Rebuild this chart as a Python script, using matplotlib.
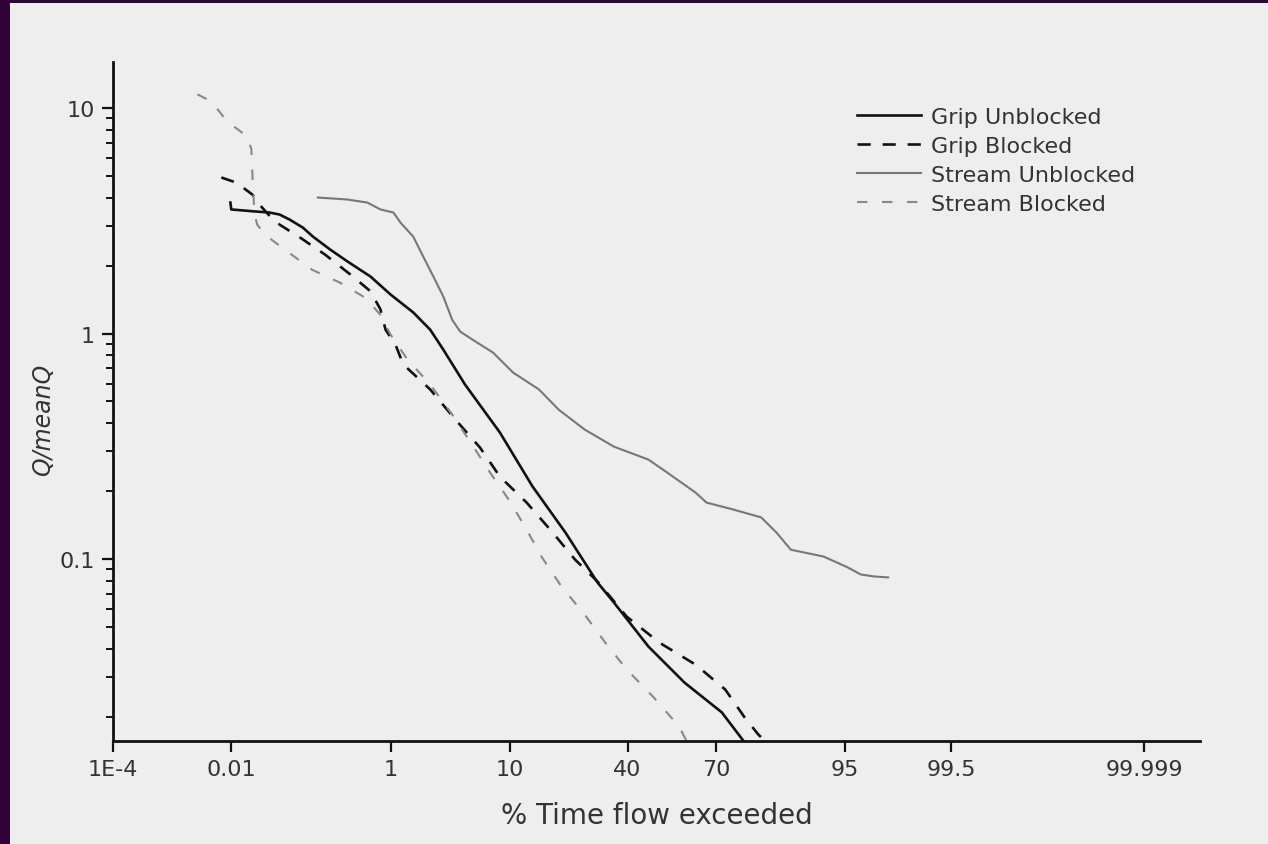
import numpy as np
import matplotlib
matplotlib.use("Agg")
import matplotlib.pyplot as plt
from matplotlib.patches import Rectangle
from matplotlib.ticker import FixedLocator, NullLocator, NullFormatter, FixedFormatter, LogLocator
from statistics import NormalDist

# ---------------- data (percent of time exceeded, Q/meanQ) ----------------
grip_unblocked_pct = [0.0097, 0.01, 0.0219, 0.0357, 0.049, 0.0668, 0.099, 0.133, 0.215, 0.342,
                      0.618, 1.0, 1.67, 2.39, 3.11, 4.70, 8.54, 13.9, 21.3, 30.3, 35.5, 47.2,
                      59.7, 71.6, 77.8]
grip_unblocked_q = [3.81, 3.55, 3.48, 3.44, 3.37, 3.20, 2.95, 2.69, 2.36, 2.09,
                    1.79, 1.49, 1.24, 1.04, 0.849, 0.594, 0.364, 0.210, 0.131, 0.0787, 0.0641, 0.0409,
                    0.0283, 0.0209, 0.0155]

grip_blocked_pct = [0.00706, 0.0119, 0.0205, 0.0258, 0.0419, 0.0904, 0.187, 0.369, 0.618, 0.788,
                    0.89, 1.12, 1.34, 2.39, 3.92, 6.14, 8.54, 12.8, 18.0, 23.8, 30.3, 39.7,
                    51.0, 63.4, 72.6, 78.0, 81.3, 83.0]
grip_blocked_q = [4.92, 4.67, 4.13, 3.73, 3.14, 2.67, 2.24, 1.83, 1.54, 1.28,
                  1.04, 0.894, 0.729, 0.565, 0.416, 0.312, 0.232, 0.178, 0.1324, 0.0995, 0.0795, 0.0556,
                  0.0426, 0.0340, 0.0264, 0.0198, 0.0167, 0.0155]

stream_unblocked_pct = [0.153, 0.342, 0.571, 0.788, 1.07, 1.26, 1.67, 2.07, 2.55, 3.11, 3.70, 4.30,
                        5.83, 7.63, 10.5, 15.2, 19.6, 26.5, 35.5, 47.2, 53.7, 63.4, 66.9, 74.8,
                        82.0, 85.3, 88.0, 92.8, 95.3, 96.3, 97.15, 97.86]
stream_unblocked_q = [4.01, 3.93, 3.81, 3.55, 3.44, 3.10, 2.69, 2.19, 1.79, 1.46, 1.15, 1.02,
                      0.912, 0.824, 0.671, 0.565, 0.460, 0.375, 0.315, 0.276, 0.242, 0.197, 0.178, 0.166,
                      0.153, 0.131, 0.110, 0.1026, 0.0917, 0.0854, 0.0837, 0.0829]

stream_blocked_pct = [0.00297, 0.00495, 0.0087, 0.0173, 0.0198, 0.0205, 0.0219, 0.024, 0.0304, 0.0572,
                      0.129, 0.283, 0.544, 0.788, 1.0, 1.47, 2.39, 3.70, 5.33, 7.27, 10.0, 12.8,
                      15.85, 20.3, 26.5, 32.7, 39.7, 49.1, 57.8, 60.5]
stream_blocked_q = [11.5, 10.7, 8.71, 7.47, 6.55, 4.97, 3.37, 3.04, 2.75, 2.36,
                    1.92, 1.68, 1.44, 1.21, 0.99, 0.767, 0.594, 0.437, 0.322, 0.242, 0.180, 0.135,
                    0.1015, 0.0755, 0.0567, 0.0426, 0.0324, 0.0243, 0.0181, 0.0155]

x_ticks = [1e-4, 0.01, 1, 10, 40, 70, 95, 99.5, 99.999]
x_tick_labels = ["1E-4", "0.01", "1", "10", "40", "70", "95", "99.5", "99.999"]
y_ticks = [0.1, 1, 10]
y_tick_labels = ["0.1", "1", "10"]

# ---------------- probability (probit) scale ----------------
_nd = NormalDist()
_ppf = np.vectorize(lambda v: _nd.inv_cdf(v / 100.0), otypes=[float])
_cdf = np.vectorize(lambda v: 100.0 * _nd.cdf(v), otypes=[float])


def fwd(p):
    p = np.clip(np.asarray(p, dtype=float), 1e-10, 100 - 1e-10)
    return _ppf(p)


def inv(z):
    return _cdf(np.asarray(z, dtype=float))


BG = "#eeeeee"
TXT = "#333333"

plt.rcParams['font.family'] = ['DejaVu Sans']

fig = plt.figure(figsize=(12.68, 8.45), dpi=100, facecolor=BG)
ax = fig.add_axes([113 / 1268, 1 - 742 / 845, 1087 / 1268, 679 / 845])
ax.set_facecolor(BG)

ax.set_xscale('function', functions=(fwd, inv))
ax.set_yscale('log')

ax.plot(grip_unblocked_pct, grip_unblocked_q, color="#111111", lw=1.9, label="Grip Unblocked")
ax.plot(grip_blocked_pct, grip_blocked_q, color="#111111", lw=1.9, dashes=(5, 4.5), label="Grip Blocked")
ax.plot(stream_unblocked_pct, stream_unblocked_q, color="#777777", lw=1.5, label="Stream Unblocked")
ax.plot(stream_blocked_pct, stream_blocked_q, color="#888888", lw=1.5, dashes=(5, 7), label="Stream Blocked")

ax.set_xlim(1e-4, 99.9999)
ax.set_ylim(0.0156, 16)

ax.xaxis.set_major_locator(FixedLocator(x_ticks))
ax.xaxis.set_major_formatter(FixedFormatter(x_tick_labels))
ax.xaxis.set_minor_locator(NullLocator())
ax.yaxis.set_major_locator(FixedLocator(y_ticks))
ax.yaxis.set_major_formatter(FixedFormatter(y_tick_labels))
ax.yaxis.set_minor_locator(LogLocator(base=10, subs=np.arange(2, 10)))
ax.yaxis.set_minor_formatter(NullFormatter())

for s in ("top", "right"):
    ax.spines[s].set_visible(False)
for s in ("left", "bottom"):
    ax.spines[s].set_linewidth(2.0)
    ax.spines[s].set_color("#111111")

ax.tick_params(axis='both', which='major', direction='out', length=8, width=1.6,
               color="#111111", labelsize=16, labelcolor=TXT, pad=5)
ax.tick_params(axis='y', which='minor', direction='out', length=5, width=1.4, color="#111111")

ax.set_xlabel("% Time flow exceeded", fontsize=20, color=TXT, labelpad=16)
ax.set_ylabel("Q/meanQ", fontsize=17, color=TXT, style='italic')
ax.yaxis.set_label_coords(-0.053, 0.474)

leg = ax.legend(loc='upper left', bbox_to_anchor=((857 - 113) / 1087, (742 - 108) / 679),
                frameon=False, fontsize=16, handlelength=2.9, handletextpad=0.45,
                labelspacing=0.4, borderpad=0, borderaxespad=0)
for t in leg.get_texts():
    t.set_color(TXT)

# dark border strips on the left and top edges
fig.patches.append(Rectangle((0, 0), 10 / 1268, 1, transform=fig.transFigure,
                             facecolor="#2e0536", edgecolor='none', zorder=10))
fig.patches.append(Rectangle((0, 1 - 4 / 845), 1, 4 / 845, transform=fig.transFigure,
                             facecolor="#2e0536", edgecolor='none', zorder=10))

fig.savefig("out.png", dpi=100, facecolor=BG)
